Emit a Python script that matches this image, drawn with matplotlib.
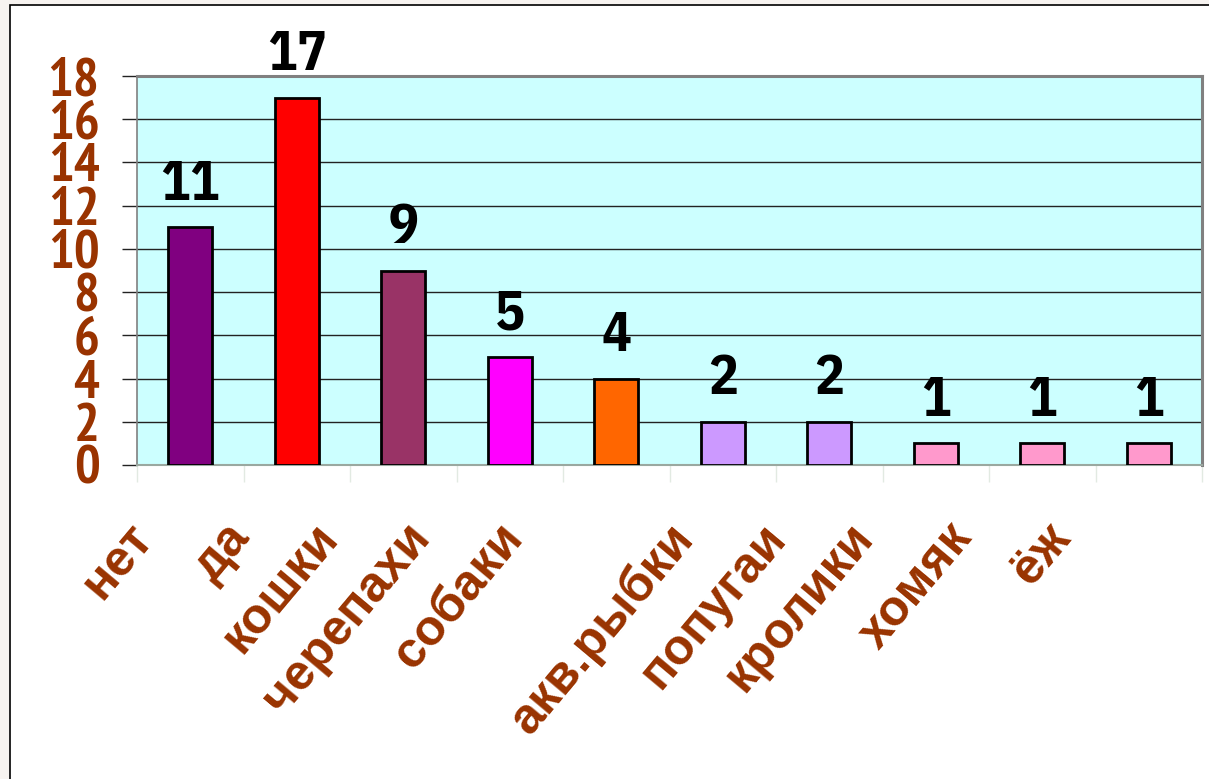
import matplotlib
matplotlib.use("Agg")
import matplotlib.pyplot as plt
from matplotlib.patches import Rectangle
from matplotlib.transforms import ScaledTranslation
import numpy as np

# data
categories = ["нет", "да", "кошки", "черепахи", "собаки",
              "акв.рыбки", "попугаи", "кролики", "хомяк", "ёж"]
counts = [11, 17, 9, 5, 4, 2, 2, 1, 1, 1]
bar_colors = ["#800080", "#FF0000", "#993366", "#FF00FF", "#FF6600",
              "#CC99FF", "#CC99FF", "#FF99CC", "#FF99CC", "#FF99CC"]
y_ticks = [0, 2, 4, 6, 8, 10, 12, 14, 16, 18]

# per-label nudge (px) of the rotated category labels
label_nudge = [-64, -73, -91, -106, -120, -56, -69, -89, -96, -105]

brown = "#993300"
W, H = 1209, 779

fig = plt.figure(figsize=(W / 100, H / 100), dpi=100, facecolor="#F7F3F0")
fig.patches.append(Rectangle((10 / W, -0.05), 1.2, 1.05 - 5 / H,
                             transform=fig.transFigure, facecolor="white",
                             edgecolor="black", linewidth=1.2, zorder=-1))

ax = fig.add_axes([137 / W, 1 - 465 / H, (1202 - 137) / W, (465 - 76) / H])
ax.set_facecolor("#CCFFFF")

x = np.arange(len(categories))
bars = ax.bar(x, counts, width=0.41, color=bar_colors, edgecolor="black",
              linewidth=2.0, zorder=3)

for xi, v in zip(x, counts):
    ax.annotate(str(v), (xi, v), xytext=(0, 20), textcoords="offset points",
                ha="center", va="baseline", fontsize=40, fontweight="bold",
                family=["IBM Plex Sans Condensed", "DejaVu Sans"],
                color="black", zorder=4, annotation_clip=False)

ax.set_xlim(-0.5, len(categories) - 0.5)
ax.set_ylim(0, 18)
ax.set_yticks(y_ticks)
ax.yaxis.grid(True, color="#222222", linewidth=1.0, zorder=1)
ax.set_axisbelow(True)

for s in ["top", "right"]:
    ax.spines[s].set_color("#808080")
    ax.spines[s].set_linewidth(2.2)
ax.spines["bottom"].set_color("#9AA8A0")
ax.spines["bottom"].set_linewidth(1.5)
ax.spines["left"].set_color("#808080")
ax.spines["left"].set_linewidth(1.2)

ax.tick_params(axis="y", length=11, width=1.0, color="#222222", pad=16,
               labelsize=39, labelcolor=brown)
for lbl in ax.get_yticklabels():
    lbl.set_fontfamily(["PT Sans Narrow", "DejaVu Sans"])
    lbl.set_fontweight("bold")

ax.set_xticks(x)
ax.set_xticks(np.arange(len(categories) + 1) - 0.5, minor=True)
ax.tick_params(axis="x", which="major", length=0, pad=36)
ax.tick_params(axis="x", which="minor", length=12, width=1.0, color="#E2EAE2")
ax.set_xticklabels(categories, rotation=50, ha="right", va="top",
                   rotation_mode="anchor", fontsize=36, fontweight="bold",
                   color=brown, family=["Liberation Sans", "DejaVu Sans"])
for lbl, dx in zip(ax.get_xticklabels(), label_nudge):
    lbl.set_transform(lbl.get_transform() + ScaledTranslation(dx / 100, 0, fig.dpi_scale_trans))

fig.savefig("out.png", dpi=100, facecolor=fig.get_facecolor())
